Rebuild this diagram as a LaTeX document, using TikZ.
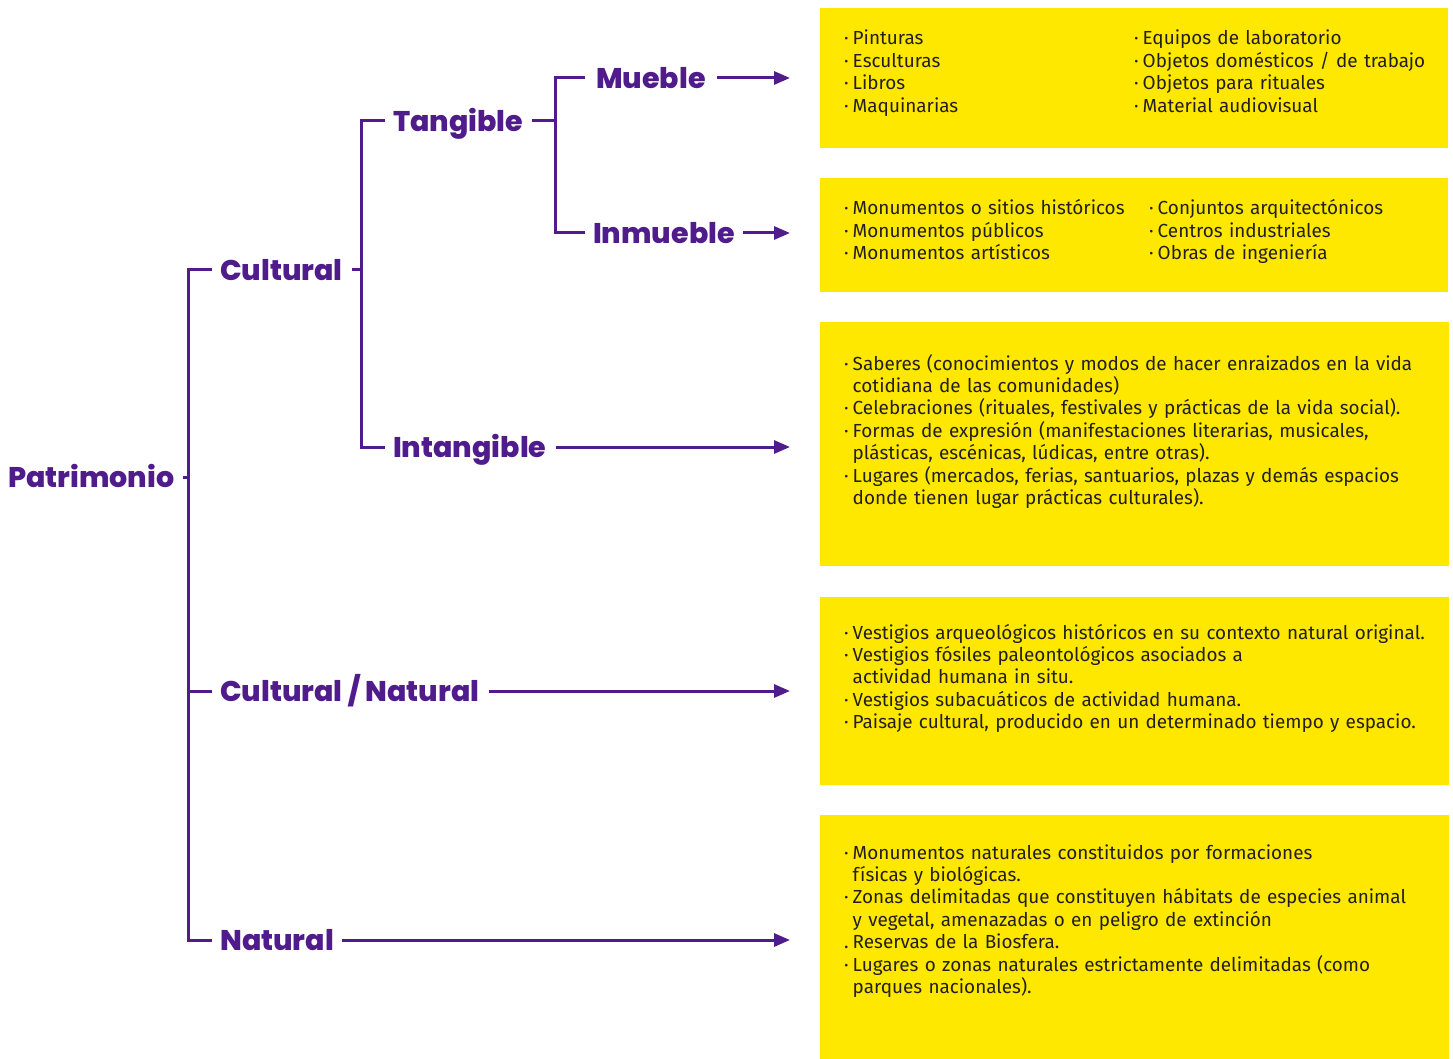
\documentclass[tikz,border=0pt]{standalone}
\usepackage{fontspec}
\setmainfont{Fira Sans}
\newfontfamily\headfont{Poppins}[BoldFont={Poppins ExtraBold}]
\usetikzlibrary{arrows.meta}
\definecolor{ink}{RGB}{80,28,140}
\definecolor{sun}{RGB}{255,232,0}
\definecolor{bodytext}{RGB}{35,31,32}
% bullet mark and the matching indent for wrapped lines
\newcommand\itm{·\hspace{4pt}}
\newcommand\hang{\hphantom{\itm}}
\begin{document}
\begin{tikzpicture}[x=1pt,y=-1pt,
  lbl/.style={font=\headfont\bfseries\fontsize{28.5}{29}\selectfont, text=ink,
    inner sep=0pt, anchor=west, text height=20.5pt, text depth=0pt},
  link/.style={draw=ink, line width=3pt},
  arr/.style={link, -{Triangle[length=16pt,width=13pt]}, shorten >=30pt},
  panel/.style={fill=sun, draw=none, anchor=north west, inner sep=0pt},
  items/.style={font=\fontsize{18.9}{22.4}\selectfont, text=bodytext,
    inner sep=0pt, anchor=base west, align=left, text width=#1},
  items/.default=600pt,
]
\useasboundingbox (0,0) rectangle (1453,1059);

% yellow panels
\node[panel, minimum width=628pt, minimum height=140pt] (p1) at (820,8) {};
\node[panel, minimum width=628pt, minimum height=114pt] (p2) at (820,178) {};
\node[panel, minimum width=629pt, minimum height=244pt] (p3) at (820,322) {};
\node[panel, minimum width=629pt, minimum height=188pt] (p4) at (820,597) {};
\node[panel, minimum width=629pt, minimum height=244pt] (p5) at (820,815) {};

% panel contents
\node[items=280pt] (t1a) at (844,45) {\itm Pinturas\\\itm Esculturas\\\itm Libros\\\itm Maquinarias};
\node[items=310pt] (t1b) at (1134,45) {\itm Equipos de laboratorio\\\itm Objetos domésticos / de trabajo\\\itm Objetos para rituales\\\itm Material audiovisual};
\node[items=300pt] (t2a) at (844,215) {\itm Monumentos o sitios históricos\\\itm Monumentos públicos\\\itm Monumentos artísticos};
\node[items=290pt] (t2b) at (1149,215) {\itm Conjuntos arquitectónicos\\\itm Centros industriales\\\itm Obras de ingeniería};
\node[items] (t3) at (844,370) {\itm Saberes (conocimientos y modos de hacer enraizados en la vida\\
  \hang cotidiana de las comunidades)\\
  \itm Celebraciones (rituales, festivales y prácticas de la vida social).\\
  \itm Formas de expresión (manifestaciones literarias, musicales,\\
  \hang plásticas, escénicas, lúdicas, entre otras).\\
  \itm Lugares (mercados, ferias, santuarios, plazas y demás espacios\\
  \hang donde tienen lugar prácticas culturales).};
\node[items] (t4) at (844,639) {\itm Vestigios arqueológicos históricos en su contexto natural original.\\
  \itm Vestigios fósiles paleontológicos asociados a\\
  \hang actividad humana in situ.\\
  \itm Vestigios subacuáticos de actividad humana.\\
  \itm Paisaje cultural, producido en un determinado tiempo y espacio.};
\node[items] (t5) at (844,859) {\itm Monumentos naturales constituidos por formaciones\\
  \hang físicas y biológicas.\\
  \itm Zonas delimitadas que constituyen hábitats de especies animal\\
  \hang y vegetal, amenazadas o en peligro de extinción\\
  .\hspace{4pt}Reservas de la Biosfera.\\
  \itm Lugares o zonas naturales estrictamente delimitadas (como\\
  \hang parques nacionales).};

% category labels
\node[lbl] (pat) at (8,477) {Patrimonio};
\node[lbl] (cul) at (220,270) {Cultural};
\node[lbl] (cn)  at (220,691) {Cultural / Natural};
\node[lbl] (nat) at (220,940) {Natural};
\node[lbl] (tan) at (393,121) {Tangible};
\node[lbl] (int) at (393,447) {Intangible};
\node[lbl] (mue) at (596,78)  {Mueble};
\node[lbl] (inm) at (593,233) {Inmueble};

% spines of the brackets
\coordinate (s1) at (188,0);
\coordinate (s2) at (361,0);
\coordinate (s3) at (555,0);

% Patrimonio bracket
\draw[link] ([xshift=-8pt]cul.west) -- (cul.west -| s1) -- (nat.west -| s1) -- ([xshift=-8pt]nat.west);
\draw[link] ([xshift=-8pt]cn.west) -- (cn.west -| s1);
\draw[link] ([xshift=9pt]pat.east) -- (pat.east -| s1);

% Cultural bracket
\draw[link] ([xshift=-8pt]tan.west) -- (tan.west -| s2) -- (int.west -| s2) -- ([xshift=-8pt]int.west);
\draw[link] ([xshift=9pt]cul.east) -- (cul.east -| s2);

% Tangible bracket
\draw[link] ([xshift=-11pt]mue.west) -- (mue.west -| s3) -- (inm.west -| s3) -- ([xshift=-8pt]inm.west);
\draw[link] ([xshift=9pt]tan.east) -- (tan.east -| s3);

% arrows to the panels
\draw[arr] ([xshift=11pt]mue.east) -- (mue.east -| p1.west);
\draw[arr] ([xshift=8pt]inm.east) -- (inm.east -| p2.west);
\draw[arr] ([xshift=9pt]int.east) -- (int.east -| p3.west);
\draw[arr] ([xshift=10pt]cn.east) -- (cn.east -| p4.west);
\draw[arr] ([xshift=8pt]nat.east) -- (nat.east -| p5.west);
\end{tikzpicture}
\end{document}
